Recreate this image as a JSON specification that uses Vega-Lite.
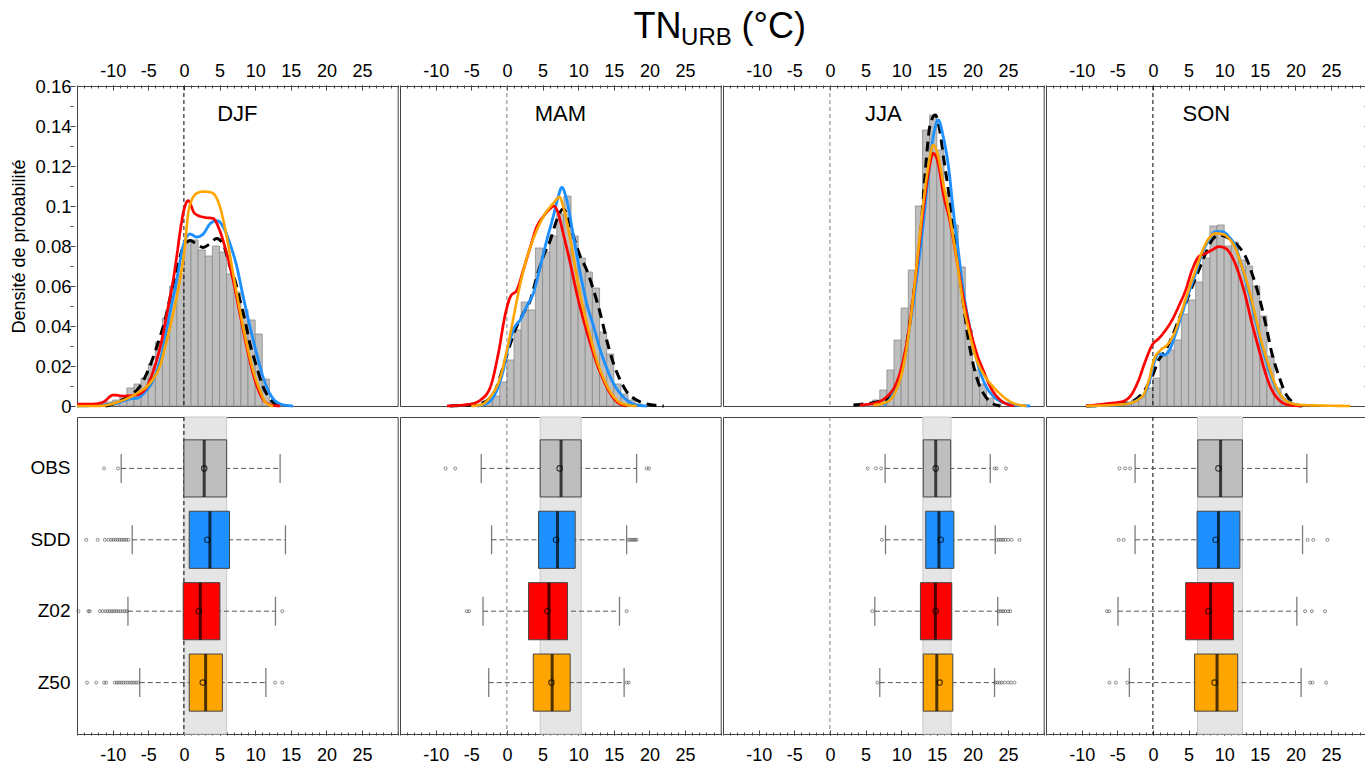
{
"$schema": "https://vega.github.io/schema/vega-lite/v6.json",
"padding": {"left": 10, "top": 9, "right": 2, "bottom": 0},
"config": {
  "font": "Liberation Sans",
  "view": {"stroke": "#444", "strokeWidth": 1},
  "axis": {"domain": false, "grid": false, "labelFont": "Liberation Sans", "labelColor": "#000", "tickColor": "#444", "titleFont": "Liberation Sans", "titleFontWeight": "normal", "titleColor": "#000"}
},
"title": {"text": "TN\u00a0\u00a0\u00a0\u00a0\u00a0\u00a0(°C)", "subtitle": "URB\u00a0\u00a0\u00a0\u00a0\u200b", "font": "Liberation Sans", "subtitleFont": "Liberation Sans", "fontSize": 36, "subtitleFontSize": 24, "fontWeight": "normal", "subtitleFontWeight": "normal", "color": "#000", "subtitleColor": "#000", "anchor": "middle", "subtitlePadding": -20.5, "offset": 11.5, "dx": 30.5},
"datasets": {
"top": [
{"season":"DJF","kind":"lab"},{"season":"MAM","kind":"lab"},{"season":"JJA","kind":"lab"},{"season":"SON","kind":"lab"},
{"season":"DJF","kind":"hist","lo":-13,"hi":-12,"dens":0.0005},{"season":"DJF","kind":"hist","lo":-12,"hi":-11,"dens":0.001},{"season":"DJF","kind":"hist","lo":-11,"hi":-10,"dens":0.002},{"season":"DJF","kind":"hist","lo":-10,"hi":-9,"dens":0.003},{"season":"DJF","kind":"hist","lo":-9,"hi":-8,"dens":0.005},{"season":"DJF","kind":"hist","lo":-8,"hi":-7,"dens":0.009},{"season":"DJF","kind":"hist","lo":-7,"hi":-6,"dens":0.011},{"season":"DJF","kind":"hist","lo":-6,"hi":-5,"dens":0.014},{"season":"DJF","kind":"hist","lo":-5,"hi":-4,"dens":0.021},{"season":"DJF","kind":"hist","lo":-4,"hi":-3,"dens":0.032},{"season":"DJF","kind":"hist","lo":-3,"hi":-2,"dens":0.044},{"season":"DJF","kind":"hist","lo":-2,"hi":-1,"dens":0.06},{"season":"DJF","kind":"hist","lo":-1,"hi":0,"dens":0.066},{"season":"DJF","kind":"hist","lo":0,"hi":1,"dens":0.083},{"season":"DJF","kind":"hist","lo":1,"hi":2,"dens":0.083},{"season":"DJF","kind":"hist","lo":2,"hi":3,"dens":0.078},{"season":"DJF","kind":"hist","lo":3,"hi":4,"dens":0.075},{"season":"DJF","kind":"hist","lo":4,"hi":5,"dens":0.08},{"season":"DJF","kind":"hist","lo":5,"hi":6,"dens":0.077},{"season":"DJF","kind":"hist","lo":6,"hi":7,"dens":0.066},{"season":"DJF","kind":"hist","lo":7,"hi":8,"dens":0.057},{"season":"DJF","kind":"hist","lo":8,"hi":9,"dens":0.048},{"season":"DJF","kind":"hist","lo":9,"hi":10,"dens":0.043},{"season":"DJF","kind":"hist","lo":10,"hi":11,"dens":0.036},{"season":"DJF","kind":"hist","lo":11,"hi":12,"dens":0.0135},{"season":"DJF","kind":"hist","lo":12,"hi":13,"dens":0.002},{"season":"DJF","kind":"hist","lo":13,"hi":14,"dens":0.0005},
{"season":"MAM","kind":"hist","lo":-4,"hi":-3,"dens":0.001},{"season":"MAM","kind":"hist","lo":-3,"hi":-2,"dens":0.002},{"season":"MAM","kind":"hist","lo":-2,"hi":-1,"dens":0.005},{"season":"MAM","kind":"hist","lo":-1,"hi":0,"dens":0.012},{"season":"MAM","kind":"hist","lo":0,"hi":1,"dens":0.023},{"season":"MAM","kind":"hist","lo":1,"hi":2,"dens":0.038},{"season":"MAM","kind":"hist","lo":2,"hi":3,"dens":0.052},{"season":"MAM","kind":"hist","lo":3,"hi":4,"dens":0.048},{"season":"MAM","kind":"hist","lo":4,"hi":5,"dens":0.079},{"season":"MAM","kind":"hist","lo":5,"hi":6,"dens":0.077},{"season":"MAM","kind":"hist","lo":6,"hi":7,"dens":0.085},{"season":"MAM","kind":"hist","lo":7,"hi":8,"dens":0.096},{"season":"MAM","kind":"hist","lo":8,"hi":9,"dens":0.105},{"season":"MAM","kind":"hist","lo":9,"hi":10,"dens":0.085},{"season":"MAM","kind":"hist","lo":10,"hi":11,"dens":0.074},{"season":"MAM","kind":"hist","lo":11,"hi":12,"dens":0.067},{"season":"MAM","kind":"hist","lo":12,"hi":13,"dens":0.059},{"season":"MAM","kind":"hist","lo":13,"hi":14,"dens":0.037},{"season":"MAM","kind":"hist","lo":14,"hi":15,"dens":0.026},{"season":"MAM","kind":"hist","lo":15,"hi":16,"dens":0.011},{"season":"MAM","kind":"hist","lo":16,"hi":17,"dens":0.006},{"season":"MAM","kind":"hist","lo":17,"hi":18,"dens":0.003},{"season":"MAM","kind":"hist","lo":18,"hi":19,"dens":0.001},
{"season":"JJA","kind":"hist","lo":4,"hi":5,"dens":0.0005},{"season":"JJA","kind":"hist","lo":5,"hi":6,"dens":0.001},{"season":"JJA","kind":"hist","lo":6,"hi":7,"dens":0.003},{"season":"JJA","kind":"hist","lo":7,"hi":8,"dens":0.008},{"season":"JJA","kind":"hist","lo":8,"hi":9,"dens":0.018},{"season":"JJA","kind":"hist","lo":9,"hi":10,"dens":0.033},{"season":"JJA","kind":"hist","lo":10,"hi":11,"dens":0.049},{"season":"JJA","kind":"hist","lo":11,"hi":12,"dens":0.068},{"season":"JJA","kind":"hist","lo":12,"hi":13,"dens":0.1},{"season":"JJA","kind":"hist","lo":13,"hi":14,"dens":0.138},{"season":"JJA","kind":"hist","lo":14,"hi":15,"dens":0.1455},{"season":"JJA","kind":"hist","lo":15,"hi":16,"dens":0.128},{"season":"JJA","kind":"hist","lo":16,"hi":17,"dens":0.107},{"season":"JJA","kind":"hist","lo":17,"hi":18,"dens":0.0905},{"season":"JJA","kind":"hist","lo":18,"hi":19,"dens":0.0695},{"season":"JJA","kind":"hist","lo":19,"hi":20,"dens":0.038},{"season":"JJA","kind":"hist","lo":20,"hi":21,"dens":0.018},{"season":"JJA","kind":"hist","lo":21,"hi":22,"dens":0.011},{"season":"JJA","kind":"hist","lo":22,"hi":23,"dens":0.004},{"season":"JJA","kind":"hist","lo":23,"hi":24,"dens":0.001},
{"season":"SON","kind":"hist","lo":-6,"hi":-5,"dens":0.0005},{"season":"SON","kind":"hist","lo":-5,"hi":-4,"dens":0.001},{"season":"SON","kind":"hist","lo":-4,"hi":-3,"dens":0.002},{"season":"SON","kind":"hist","lo":-3,"hi":-2,"dens":0.003},{"season":"SON","kind":"hist","lo":-2,"hi":-1,"dens":0.005},{"season":"SON","kind":"hist","lo":-1,"hi":0,"dens":0.009},{"season":"SON","kind":"hist","lo":0,"hi":1,"dens":0.014},{"season":"SON","kind":"hist","lo":1,"hi":2,"dens":0.025},{"season":"SON","kind":"hist","lo":2,"hi":3,"dens":0.028},{"season":"SON","kind":"hist","lo":3,"hi":4,"dens":0.033},{"season":"SON","kind":"hist","lo":4,"hi":5,"dens":0.046},{"season":"SON","kind":"hist","lo":5,"hi":6,"dens":0.053},{"season":"SON","kind":"hist","lo":6,"hi":7,"dens":0.062},{"season":"SON","kind":"hist","lo":7,"hi":8,"dens":0.074},{"season":"SON","kind":"hist","lo":8,"hi":9,"dens":0.09},{"season":"SON","kind":"hist","lo":9,"hi":10,"dens":0.0905},{"season":"SON","kind":"hist","lo":10,"hi":11,"dens":0.08},{"season":"SON","kind":"hist","lo":11,"hi":12,"dens":0.082},{"season":"SON","kind":"hist","lo":12,"hi":13,"dens":0.073},{"season":"SON","kind":"hist","lo":13,"hi":14,"dens":0.07},{"season":"SON","kind":"hist","lo":14,"hi":15,"dens":0.06},{"season":"SON","kind":"hist","lo":15,"hi":16,"dens":0.045},{"season":"SON","kind":"hist","lo":16,"hi":17,"dens":0.025},{"season":"SON","kind":"hist","lo":17,"hi":18,"dens":0.009},{"season":"SON","kind":"hist","lo":18,"hi":19,"dens":0.003},{"season":"SON","kind":"hist","lo":19,"hi":20,"dens":0.001},

{"season":"DJF","kind":"curve","model":"OBS","temp":-11,"dens":0},{"season":"DJF","kind":"curve","model":"OBS","temp":-10.4,"dens":0.0005},{"season":"DJF","kind":"curve","model":"OBS","temp":-9,"dens":0.0025},{"season":"DJF","kind":"curve","model":"OBS","temp":-7.6,"dens":0.005},{"season":"DJF","kind":"curve","model":"OBS","temp":-6.2,"dens":0.0097},{"season":"DJF","kind":"curve","model":"OBS","temp":-5,"dens":0.018},{"season":"DJF","kind":"curve","model":"OBS","temp":-3.8,"dens":0.0297},{"season":"DJF","kind":"curve","model":"OBS","temp":-2.65,"dens":0.043},{"season":"DJF","kind":"curve","model":"OBS","temp":-1.7,"dens":0.058},{"season":"DJF","kind":"curve","model":"OBS","temp":-1,"dens":0.068},{"season":"DJF","kind":"curve","model":"OBS","temp":-0.1,"dens":0.0793},{"season":"DJF","kind":"curve","model":"OBS","temp":0.85,"dens":0.0827},{"season":"DJF","kind":"curve","model":"OBS","temp":1.8,"dens":0.081},{"season":"DJF","kind":"curve","model":"OBS","temp":2.7,"dens":0.0793},{"season":"DJF","kind":"curve","model":"OBS","temp":3.6,"dens":0.081},{"season":"DJF","kind":"curve","model":"OBS","temp":4.6,"dens":0.0837},{"season":"DJF","kind":"curve","model":"OBS","temp":5.5,"dens":0.081},{"season":"DJF","kind":"curve","model":"OBS","temp":6.45,"dens":0.07},{"season":"DJF","kind":"curve","model":"OBS","temp":7.15,"dens":0.063},{"season":"DJF","kind":"curve","model":"OBS","temp":7.85,"dens":0.053},{"season":"DJF","kind":"curve","model":"OBS","temp":8.55,"dens":0.043},{"season":"DJF","kind":"curve","model":"OBS","temp":9.25,"dens":0.0313},{"season":"DJF","kind":"curve","model":"OBS","temp":10.2,"dens":0.0197},{"season":"DJF","kind":"curve","model":"OBS","temp":11.1,"dens":0.0097},{"season":"DJF","kind":"curve","model":"OBS","temp":12,"dens":0.004},{"season":"DJF","kind":"curve","model":"OBS","temp":13,"dens":0.0005},{"season":"DJF","kind":"curve","model":"OBS","temp":14,"dens":0},
{"season":"DJF","kind":"curve","model":"SDD","temp":-15,"dens":0},{"season":"DJF","kind":"curve","model":"SDD","temp":-11.8,"dens":0.0005},{"season":"DJF","kind":"curve","model":"SDD","temp":-9.4,"dens":0.0015},{"season":"DJF","kind":"curve","model":"SDD","temp":-7.6,"dens":0.0035},{"season":"DJF","kind":"curve","model":"SDD","temp":-6.5,"dens":0.004},{"season":"DJF","kind":"curve","model":"SDD","temp":-5.3,"dens":0.0077},{"season":"DJF","kind":"curve","model":"SDD","temp":-4.3,"dens":0.013},{"season":"DJF","kind":"curve","model":"SDD","temp":-3.1,"dens":0.026},{"season":"DJF","kind":"curve","model":"SDD","temp":-2,"dens":0.046},{"season":"DJF","kind":"curve","model":"SDD","temp":-1,"dens":0.063},{"season":"DJF","kind":"curve","model":"SDD","temp":-0.1,"dens":0.08},{"season":"DJF","kind":"curve","model":"SDD","temp":0.85,"dens":0.086},{"season":"DJF","kind":"curve","model":"SDD","temp":1.8,"dens":0.0845},{"season":"DJF","kind":"curve","model":"SDD","temp":2.7,"dens":0.086},{"season":"DJF","kind":"curve","model":"SDD","temp":3.65,"dens":0.091},{"season":"DJF","kind":"curve","model":"SDD","temp":4.6,"dens":0.0927},{"season":"DJF","kind":"curve","model":"SDD","temp":5.5,"dens":0.0897},{"season":"DJF","kind":"curve","model":"SDD","temp":6.45,"dens":0.0813},{"season":"DJF","kind":"curve","model":"SDD","temp":7.4,"dens":0.07},{"season":"DJF","kind":"curve","model":"SDD","temp":8.3,"dens":0.055},{"season":"DJF","kind":"curve","model":"SDD","temp":9.25,"dens":0.04},{"season":"DJF","kind":"curve","model":"SDD","temp":10.2,"dens":0.0263},{"season":"DJF","kind":"curve","model":"SDD","temp":11.1,"dens":0.0147},{"season":"DJF","kind":"curve","model":"SDD","temp":12.05,"dens":0.0063},{"season":"DJF","kind":"curve","model":"SDD","temp":13,"dens":0.002},{"season":"DJF","kind":"curve","model":"SDD","temp":14.4,"dens":0.0003},{"season":"DJF","kind":"curve","model":"SDD","temp":15.3,"dens":0},
{"season":"DJF","kind":"curve","model":"Z02","temp":-15,"dens":0.001},{"season":"DJF","kind":"curve","model":"Z02","temp":-12.7,"dens":0.001},{"season":"DJF","kind":"curve","model":"Z02","temp":-11.3,"dens":0.002},{"season":"DJF","kind":"curve","model":"Z02","temp":-9.9,"dens":0.0055},{"season":"DJF","kind":"curve","model":"Z02","temp":-8.5,"dens":0.005},{"season":"DJF","kind":"curve","model":"Z02","temp":-6.6,"dens":0.0055},{"season":"DJF","kind":"curve","model":"Z02","temp":-5.2,"dens":0.0097},{"season":"DJF","kind":"curve","model":"Z02","temp":-4.1,"dens":0.0197},{"season":"DJF","kind":"curve","model":"Z02","temp":-3.1,"dens":0.033},{"season":"DJF","kind":"curve","model":"Z02","temp":-2.2,"dens":0.0497},{"season":"DJF","kind":"curve","model":"Z02","temp":-1.5,"dens":0.063},{"season":"DJF","kind":"curve","model":"Z02","temp":-1,"dens":0.075},{"season":"DJF","kind":"curve","model":"Z02","temp":-0.5,"dens":0.088},{"season":"DJF","kind":"curve","model":"Z02","temp":0,"dens":0.098},{"season":"DJF","kind":"curve","model":"Z02","temp":0.6,"dens":0.1027},{"season":"DJF","kind":"curve","model":"Z02","temp":1.5,"dens":0.0963},{"season":"DJF","kind":"curve","model":"Z02","temp":2.9,"dens":0.0943},{"season":"DJF","kind":"curve","model":"Z02","temp":4.1,"dens":0.0938},{"season":"DJF","kind":"curve","model":"Z02","temp":5,"dens":0.088},{"season":"DJF","kind":"curve","model":"Z02","temp":6,"dens":0.0763},{"season":"DJF","kind":"curve","model":"Z02","temp":6.9,"dens":0.063},{"season":"DJF","kind":"curve","model":"Z02","temp":7.85,"dens":0.0463},{"season":"DJF","kind":"curve","model":"Z02","temp":8.8,"dens":0.0297},{"season":"DJF","kind":"curve","model":"Z02","temp":9.7,"dens":0.0163},{"season":"DJF","kind":"curve","model":"Z02","temp":10.65,"dens":0.0063},{"season":"DJF","kind":"curve","model":"Z02","temp":11.6,"dens":0.0015},{"season":"DJF","kind":"curve","model":"Z02","temp":12.5,"dens":0.0003},{"season":"DJF","kind":"curve","model":"Z02","temp":13.5,"dens":0},
{"season":"DJF","kind":"curve","model":"Z50","temp":-15,"dens":0},{"season":"DJF","kind":"curve","model":"Z50","temp":-12.2,"dens":0},{"season":"DJF","kind":"curve","model":"Z50","temp":-9,"dens":0.0023},{"season":"DJF","kind":"curve","model":"Z50","temp":-6.6,"dens":0.0063},{"season":"DJF","kind":"curve","model":"Z50","temp":-4.8,"dens":0.0113},{"season":"DJF","kind":"curve","model":"Z50","temp":-3.4,"dens":0.0197},{"season":"DJF","kind":"curve","model":"Z50","temp":-2.4,"dens":0.033},{"season":"DJF","kind":"curve","model":"Z50","temp":-1.5,"dens":0.0463},{"season":"DJF","kind":"curve","model":"Z50","temp":-0.56,"dens":0.063},{"season":"DJF","kind":"curve","model":"Z50","temp":0.14,"dens":0.08},{"season":"DJF","kind":"curve","model":"Z50","temp":0.6,"dens":0.0963},{"season":"DJF","kind":"curve","model":"Z50","temp":1.1,"dens":0.103},{"season":"DJF","kind":"curve","model":"Z50","temp":1.9,"dens":0.1065},{"season":"DJF","kind":"curve","model":"Z50","temp":2.7,"dens":0.1072},{"season":"DJF","kind":"curve","model":"Z50","temp":3.5,"dens":0.107},{"season":"DJF","kind":"curve","model":"Z50","temp":4.1,"dens":0.1063},{"season":"DJF","kind":"curve","model":"Z50","temp":5.05,"dens":0.0997},{"season":"DJF","kind":"curve","model":"Z50","temp":6,"dens":0.0847},{"season":"DJF","kind":"curve","model":"Z50","temp":6.9,"dens":0.0663},{"season":"DJF","kind":"curve","model":"Z50","temp":7.85,"dens":0.048},{"season":"DJF","kind":"curve","model":"Z50","temp":8.8,"dens":0.0313},{"season":"DJF","kind":"curve","model":"Z50","temp":9.7,"dens":0.018},{"season":"DJF","kind":"curve","model":"Z50","temp":10.65,"dens":0.008},{"season":"DJF","kind":"curve","model":"Z50","temp":11.6,"dens":0.0013},{"season":"DJF","kind":"curve","model":"Z50","temp":12.5,"dens":0},

{"season":"MAM","kind":"curve","model":"OBS","temp":-8,"dens":0},{"season":"MAM","kind":"curve","model":"OBS","temp":-3.7,"dens":0.0013},{"season":"MAM","kind":"curve","model":"OBS","temp":-1.9,"dens":0.006},{"season":"MAM","kind":"curve","model":"OBS","temp":-0.5,"dens":0.0197},{"season":"MAM","kind":"curve","model":"OBS","temp":0.5,"dens":0.0313},{"season":"MAM","kind":"curve","model":"OBS","temp":1.4,"dens":0.04},{"season":"MAM","kind":"curve","model":"OBS","temp":2.3,"dens":0.0463},{"season":"MAM","kind":"curve","model":"OBS","temp":3.3,"dens":0.053},{"season":"MAM","kind":"curve","model":"OBS","temp":4.2,"dens":0.0647},{"season":"MAM","kind":"curve","model":"OBS","temp":5.1,"dens":0.0747},{"season":"MAM","kind":"curve","model":"OBS","temp":6.1,"dens":0.083},{"season":"MAM","kind":"curve","model":"OBS","temp":7,"dens":0.093},{"season":"MAM","kind":"curve","model":"OBS","temp":7.9,"dens":0.0985},{"season":"MAM","kind":"curve","model":"OBS","temp":8.6,"dens":0.094},{"season":"MAM","kind":"curve","model":"OBS","temp":9.35,"dens":0.0847},{"season":"MAM","kind":"curve","model":"OBS","temp":10.3,"dens":0.0747},{"season":"MAM","kind":"curve","model":"OBS","temp":11.2,"dens":0.068},{"season":"MAM","kind":"curve","model":"OBS","temp":12.15,"dens":0.058},{"season":"MAM","kind":"curve","model":"OBS","temp":13.1,"dens":0.0463},{"season":"MAM","kind":"curve","model":"OBS","temp":14,"dens":0.033},{"season":"MAM","kind":"curve","model":"OBS","temp":14.95,"dens":0.0213},{"season":"MAM","kind":"curve","model":"OBS","temp":15.9,"dens":0.013},{"season":"MAM","kind":"curve","model":"OBS","temp":16.8,"dens":0.0072},{"season":"MAM","kind":"curve","model":"OBS","temp":18.2,"dens":0.003},{"season":"MAM","kind":"curve","model":"OBS","temp":19.6,"dens":0.001},{"season":"MAM","kind":"curve","model":"OBS","temp":22,"dens":0},
{"season":"MAM","kind":"curve","model":"SDD","temp":-4.2,"dens":0},{"season":"MAM","kind":"curve","model":"SDD","temp":-2.8,"dens":0.0013},{"season":"MAM","kind":"curve","model":"SDD","temp":-1.4,"dens":0.008},{"season":"MAM","kind":"curve","model":"SDD","temp":-0.5,"dens":0.018},{"season":"MAM","kind":"curve","model":"SDD","temp":0.2,"dens":0.0297},{"season":"MAM","kind":"curve","model":"SDD","temp":0.9,"dens":0.038},{"season":"MAM","kind":"curve","model":"SDD","temp":1.9,"dens":0.0433},{"season":"MAM","kind":"curve","model":"SDD","temp":2.8,"dens":0.05},{"season":"MAM","kind":"curve","model":"SDD","temp":3.7,"dens":0.0563},{"season":"MAM","kind":"curve","model":"SDD","temp":4.7,"dens":0.07},{"season":"MAM","kind":"curve","model":"SDD","temp":5.6,"dens":0.083},{"season":"MAM","kind":"curve","model":"SDD","temp":6.5,"dens":0.0947},{"season":"MAM","kind":"curve","model":"SDD","temp":7.2,"dens":0.1047},{"season":"MAM","kind":"curve","model":"SDD","temp":7.7,"dens":0.1093},{"season":"MAM","kind":"curve","model":"SDD","temp":8.4,"dens":0.103},{"season":"MAM","kind":"curve","model":"SDD","temp":9.35,"dens":0.0847},{"season":"MAM","kind":"curve","model":"SDD","temp":10.3,"dens":0.0663},{"season":"MAM","kind":"curve","model":"SDD","temp":11.2,"dens":0.0513},{"season":"MAM","kind":"curve","model":"SDD","temp":12.15,"dens":0.04},{"season":"MAM","kind":"curve","model":"SDD","temp":13.1,"dens":0.028},{"season":"MAM","kind":"curve","model":"SDD","temp":14,"dens":0.019},{"season":"MAM","kind":"curve","model":"SDD","temp":14.95,"dens":0.0113},{"season":"MAM","kind":"curve","model":"SDD","temp":15.9,"dens":0.0063},{"season":"MAM","kind":"curve","model":"SDD","temp":16.8,"dens":0.003},{"season":"MAM","kind":"curve","model":"SDD","temp":18.2,"dens":0.0005},{"season":"MAM","kind":"curve","model":"SDD","temp":19.6,"dens":0},
{"season":"MAM","kind":"curve","model":"Z02","temp":-8.4,"dens":0},{"season":"MAM","kind":"curve","model":"Z02","temp":-5.1,"dens":0.001},{"season":"MAM","kind":"curve","model":"Z02","temp":-3.7,"dens":0.003},{"season":"MAM","kind":"curve","model":"Z02","temp":-2.3,"dens":0.0097},{"season":"MAM","kind":"curve","model":"Z02","temp":-1.2,"dens":0.0263},{"season":"MAM","kind":"curve","model":"Z02","temp":-0.2,"dens":0.0463},{"season":"MAM","kind":"curve","model":"Z02","temp":0.5,"dens":0.0547},{"season":"MAM","kind":"curve","model":"Z02","temp":1.4,"dens":0.058},{"season":"MAM","kind":"curve","model":"Z02","temp":2.3,"dens":0.068},{"season":"MAM","kind":"curve","model":"Z02","temp":3.3,"dens":0.0797},{"season":"MAM","kind":"curve","model":"Z02","temp":4.2,"dens":0.0897},{"season":"MAM","kind":"curve","model":"Z02","temp":5.1,"dens":0.0947},{"season":"MAM","kind":"curve","model":"Z02","temp":6.1,"dens":0.0988},{"season":"MAM","kind":"curve","model":"Z02","temp":6.6,"dens":0.1},{"season":"MAM","kind":"curve","model":"Z02","temp":7.2,"dens":0.0963},{"season":"MAM","kind":"curve","model":"Z02","temp":7.9,"dens":0.0863},{"season":"MAM","kind":"curve","model":"Z02","temp":8.9,"dens":0.0713},{"season":"MAM","kind":"curve","model":"Z02","temp":9.8,"dens":0.0563},{"season":"MAM","kind":"curve","model":"Z02","temp":10.75,"dens":0.043},{"season":"MAM","kind":"curve","model":"Z02","temp":11.7,"dens":0.0313},{"season":"MAM","kind":"curve","model":"Z02","temp":12.6,"dens":0.0213},{"season":"MAM","kind":"curve","model":"Z02","temp":13.55,"dens":0.013},{"season":"MAM","kind":"curve","model":"Z02","temp":14.5,"dens":0.0063},{"season":"MAM","kind":"curve","model":"Z02","temp":15.4,"dens":0.0022},{"season":"MAM","kind":"curve","model":"Z02","temp":16.8,"dens":0},
{"season":"MAM","kind":"curve","model":"Z50","temp":-5,"dens":0},{"season":"MAM","kind":"curve","model":"Z50","temp":-3.7,"dens":0.0005},{"season":"MAM","kind":"curve","model":"Z50","temp":-2.3,"dens":0.0047},{"season":"MAM","kind":"curve","model":"Z50","temp":-0.9,"dens":0.0147},{"season":"MAM","kind":"curve","model":"Z50","temp":0,"dens":0.028},{"season":"MAM","kind":"curve","model":"Z50","temp":0.7,"dens":0.04},{"season":"MAM","kind":"curve","model":"Z50","temp":1.4,"dens":0.053},{"season":"MAM","kind":"curve","model":"Z50","temp":2.1,"dens":0.0647},{"season":"MAM","kind":"curve","model":"Z50","temp":3,"dens":0.0763},{"season":"MAM","kind":"curve","model":"Z50","temp":4.2,"dens":0.088},{"season":"MAM","kind":"curve","model":"Z50","temp":5.4,"dens":0.0963},{"season":"MAM","kind":"curve","model":"Z50","temp":6.5,"dens":0.1013},{"season":"MAM","kind":"curve","model":"Z50","temp":7.4,"dens":0.1045},{"season":"MAM","kind":"curve","model":"Z50","temp":7.9,"dens":0.0997},{"season":"MAM","kind":"curve","model":"Z50","temp":8.9,"dens":0.083},{"season":"MAM","kind":"curve","model":"Z50","temp":9.8,"dens":0.0647},{"season":"MAM","kind":"curve","model":"Z50","temp":10.75,"dens":0.048},{"season":"MAM","kind":"curve","model":"Z50","temp":11.7,"dens":0.0347},{"season":"MAM","kind":"curve","model":"Z50","temp":12.6,"dens":0.023},{"season":"MAM","kind":"curve","model":"Z50","temp":13.55,"dens":0.014},{"season":"MAM","kind":"curve","model":"Z50","temp":14.5,"dens":0.0072},{"season":"MAM","kind":"curve","model":"Z50","temp":15.4,"dens":0.003},{"season":"MAM","kind":"curve","model":"Z50","temp":16.8,"dens":0.0005},{"season":"MAM","kind":"curve","model":"Z50","temp":18.2,"dens":0},

{"season":"JJA","kind":"curve","model":"OBS","temp":3.3,"dens":0.0005},{"season":"JJA","kind":"curve","model":"OBS","temp":8,"dens":0.0033},{"season":"JJA","kind":"curve","model":"OBS","temp":9.87,"dens":0.0147},{"season":"JJA","kind":"curve","model":"OBS","temp":10.8,"dens":0.0313},{"season":"JJA","kind":"curve","model":"OBS","temp":11.7,"dens":0.0547},{"season":"JJA","kind":"curve","model":"OBS","temp":12.7,"dens":0.0847},{"season":"JJA","kind":"curve","model":"OBS","temp":13.4,"dens":0.118},{"season":"JJA","kind":"curve","model":"OBS","temp":14.1,"dens":0.1413},{"season":"JJA","kind":"curve","model":"OBS","temp":14.8,"dens":0.1455},{"season":"JJA","kind":"curve","model":"OBS","temp":15.4,"dens":0.138},{"season":"JJA","kind":"curve","model":"OBS","temp":16,"dens":0.123},{"season":"JJA","kind":"curve","model":"OBS","temp":16.7,"dens":0.1063},{"season":"JJA","kind":"curve","model":"OBS","temp":17.3,"dens":0.0913},{"season":"JJA","kind":"curve","model":"OBS","temp":18,"dens":0.072},{"season":"JJA","kind":"curve","model":"OBS","temp":18.7,"dens":0.052},{"season":"JJA","kind":"curve","model":"OBS","temp":19.4,"dens":0.034},{"season":"JJA","kind":"curve","model":"OBS","temp":20.1,"dens":0.021},{"season":"JJA","kind":"curve","model":"OBS","temp":20.8,"dens":0.012},{"season":"JJA","kind":"curve","model":"OBS","temp":21.6,"dens":0.006},{"season":"JJA","kind":"curve","model":"OBS","temp":22.5,"dens":0.002},{"season":"JJA","kind":"curve","model":"OBS","temp":23.9,"dens":0},
{"season":"JJA","kind":"curve","model":"SDD","temp":7.5,"dens":0.0005},{"season":"JJA","kind":"curve","model":"SDD","temp":8.4,"dens":0.0033},{"season":"JJA","kind":"curve","model":"SDD","temp":9.3,"dens":0.0097},{"season":"JJA","kind":"curve","model":"SDD","temp":10.3,"dens":0.0213},{"season":"JJA","kind":"curve","model":"SDD","temp":11.2,"dens":0.0397},{"season":"JJA","kind":"curve","model":"SDD","temp":12.2,"dens":0.0647},{"season":"JJA","kind":"curve","model":"SDD","temp":13.1,"dens":0.0913},{"season":"JJA","kind":"curve","model":"SDD","temp":13.8,"dens":0.1147},{"season":"JJA","kind":"curve","model":"SDD","temp":14.5,"dens":0.1347},{"season":"JJA","kind":"curve","model":"SDD","temp":15.2,"dens":0.143},{"season":"JJA","kind":"curve","model":"SDD","temp":15.9,"dens":0.1347},{"season":"JJA","kind":"curve","model":"SDD","temp":16.7,"dens":0.118},{"season":"JJA","kind":"curve","model":"SDD","temp":17.3,"dens":0.098},{"season":"JJA","kind":"curve","model":"SDD","temp":18,"dens":0.078},{"season":"JJA","kind":"curve","model":"SDD","temp":18.7,"dens":0.058},{"season":"JJA","kind":"curve","model":"SDD","temp":19.7,"dens":0.038},{"season":"JJA","kind":"curve","model":"SDD","temp":20.6,"dens":0.023},{"season":"JJA","kind":"curve","model":"SDD","temp":21.5,"dens":0.013},{"season":"JJA","kind":"curve","model":"SDD","temp":22.9,"dens":0.005},{"season":"JJA","kind":"curve","model":"SDD","temp":24.8,"dens":0.0013},{"season":"JJA","kind":"curve","model":"SDD","temp":28.1,"dens":0},
{"season":"JJA","kind":"curve","model":"Z02","temp":4.2,"dens":0.0005},{"season":"JJA","kind":"curve","model":"Z02","temp":6.1,"dens":0.0013},{"season":"JJA","kind":"curve","model":"Z02","temp":8,"dens":0.0047},{"season":"JJA","kind":"curve","model":"Z02","temp":9.3,"dens":0.0113},{"season":"JJA","kind":"curve","model":"Z02","temp":10.3,"dens":0.023},{"season":"JJA","kind":"curve","model":"Z02","temp":11,"dens":0.0363},{"season":"JJA","kind":"curve","model":"Z02","temp":11.7,"dens":0.0547},{"season":"JJA","kind":"curve","model":"Z02","temp":12.4,"dens":0.0763},{"season":"JJA","kind":"curve","model":"Z02","temp":13.1,"dens":0.098},{"season":"JJA","kind":"curve","model":"Z02","temp":13.8,"dens":0.1163},{"season":"JJA","kind":"curve","model":"Z02","temp":14.5,"dens":0.1263},{"season":"JJA","kind":"curve","model":"Z02","temp":15.2,"dens":0.1213},{"season":"JJA","kind":"curve","model":"Z02","temp":15.9,"dens":0.1063},{"season":"JJA","kind":"curve","model":"Z02","temp":16.9,"dens":0.0913},{"season":"JJA","kind":"curve","model":"Z02","temp":17.8,"dens":0.073},{"season":"JJA","kind":"curve","model":"Z02","temp":18.7,"dens":0.0547},{"season":"JJA","kind":"curve","model":"Z02","temp":19.7,"dens":0.038},{"season":"JJA","kind":"curve","model":"Z02","temp":20.6,"dens":0.0263},{"season":"JJA","kind":"curve","model":"Z02","temp":21.5,"dens":0.018},{"season":"JJA","kind":"curve","model":"Z02","temp":22.5,"dens":0.0097},{"season":"JJA","kind":"curve","model":"Z02","temp":23.9,"dens":0.003},{"season":"JJA","kind":"curve","model":"Z02","temp":25.8,"dens":0},
{"season":"JJA","kind":"curve","model":"Z50","temp":6.1,"dens":0.0005},{"season":"JJA","kind":"curve","model":"Z50","temp":8,"dens":0.002},{"season":"JJA","kind":"curve","model":"Z50","temp":9.3,"dens":0.008},{"season":"JJA","kind":"curve","model":"Z50","temp":10.3,"dens":0.0197},{"season":"JJA","kind":"curve","model":"Z50","temp":11,"dens":0.0347},{"season":"JJA","kind":"curve","model":"Z50","temp":11.7,"dens":0.0547},{"season":"JJA","kind":"curve","model":"Z50","temp":12.4,"dens":0.078},{"season":"JJA","kind":"curve","model":"Z50","temp":13.1,"dens":0.1013},{"season":"JJA","kind":"curve","model":"Z50","temp":13.8,"dens":0.1197},{"season":"JJA","kind":"curve","model":"Z50","temp":14.5,"dens":0.1305},{"season":"JJA","kind":"curve","model":"Z50","temp":15.2,"dens":0.1247},{"season":"JJA","kind":"curve","model":"Z50","temp":15.9,"dens":0.1113},{"season":"JJA","kind":"curve","model":"Z50","temp":16.9,"dens":0.093},{"season":"JJA","kind":"curve","model":"Z50","temp":17.8,"dens":0.073},{"season":"JJA","kind":"curve","model":"Z50","temp":18.7,"dens":0.0513},{"season":"JJA","kind":"curve","model":"Z50","temp":19.7,"dens":0.0347},{"season":"JJA","kind":"curve","model":"Z50","temp":20.6,"dens":0.023},{"season":"JJA","kind":"curve","model":"Z50","temp":21.5,"dens":0.0163},{"season":"JJA","kind":"curve","model":"Z50","temp":22.9,"dens":0.0097},{"season":"JJA","kind":"curve","model":"Z50","temp":24.3,"dens":0.0047},{"season":"JJA","kind":"curve","model":"Z50","temp":25.8,"dens":0.0013},{"season":"JJA","kind":"curve","model":"Z50","temp":27.6,"dens":0},

{"season":"SON","kind":"curve","model":"OBS","temp":-9.4,"dens":0},{"season":"SON","kind":"curve","model":"OBS","temp":-3.8,"dens":0.0013},{"season":"SON","kind":"curve","model":"OBS","temp":-1.5,"dens":0.0063},{"season":"SON","kind":"curve","model":"OBS","temp":-0.1,"dens":0.0147},{"season":"SON","kind":"curve","model":"OBS","temp":0.8,"dens":0.023},{"season":"SON","kind":"curve","model":"OBS","temp":1.8,"dens":0.028},{"season":"SON","kind":"curve","model":"OBS","temp":2.7,"dens":0.0347},{"season":"SON","kind":"curve","model":"OBS","temp":3.6,"dens":0.043},{"season":"SON","kind":"curve","model":"OBS","temp":4.6,"dens":0.0513},{"season":"SON","kind":"curve","model":"OBS","temp":5.5,"dens":0.0597},{"season":"SON","kind":"curve","model":"OBS","temp":6.45,"dens":0.068},{"season":"SON","kind":"curve","model":"OBS","temp":7.4,"dens":0.0763},{"season":"SON","kind":"curve","model":"OBS","temp":8.3,"dens":0.083},{"season":"SON","kind":"curve","model":"OBS","temp":9.25,"dens":0.0855},{"season":"SON","kind":"curve","model":"OBS","temp":10.2,"dens":0.0847},{"season":"SON","kind":"curve","model":"OBS","temp":11.1,"dens":0.0827},{"season":"SON","kind":"curve","model":"OBS","temp":12.05,"dens":0.0797},{"season":"SON","kind":"curve","model":"OBS","temp":13,"dens":0.0747},{"season":"SON","kind":"curve","model":"OBS","temp":13.9,"dens":0.0663},{"season":"SON","kind":"curve","model":"OBS","temp":14.9,"dens":0.0547},{"season":"SON","kind":"curve","model":"OBS","temp":15.8,"dens":0.0413},{"season":"SON","kind":"curve","model":"OBS","temp":16.7,"dens":0.0263},{"season":"SON","kind":"curve","model":"OBS","temp":17.7,"dens":0.0147},{"season":"SON","kind":"curve","model":"OBS","temp":18.6,"dens":0.0063},{"season":"SON","kind":"curve","model":"OBS","temp":19.5,"dens":0.0022},{"season":"SON","kind":"curve","model":"OBS","temp":20.9,"dens":0},
{"season":"SON","kind":"curve","model":"SDD","temp":-9.4,"dens":0},{"season":"SON","kind":"curve","model":"SDD","temp":-3.8,"dens":0.001},{"season":"SON","kind":"curve","model":"SDD","temp":-1.5,"dens":0.0047},{"season":"SON","kind":"curve","model":"SDD","temp":-0.56,"dens":0.0113},{"season":"SON","kind":"curve","model":"SDD","temp":0.14,"dens":0.0213},{"season":"SON","kind":"curve","model":"SDD","temp":0.84,"dens":0.0263},{"season":"SON","kind":"curve","model":"SDD","temp":1.5,"dens":0.0255},{"season":"SON","kind":"curve","model":"SDD","temp":2.2,"dens":0.0272},{"season":"SON","kind":"curve","model":"SDD","temp":3.2,"dens":0.0363},{"season":"SON","kind":"curve","model":"SDD","temp":4.1,"dens":0.0463},{"season":"SON","kind":"curve","model":"SDD","temp":5,"dens":0.0563},{"season":"SON","kind":"curve","model":"SDD","temp":6,"dens":0.0663},{"season":"SON","kind":"curve","model":"SDD","temp":6.9,"dens":0.0763},{"season":"SON","kind":"curve","model":"SDD","temp":7.85,"dens":0.083},{"season":"SON","kind":"curve","model":"SDD","temp":8.8,"dens":0.0872},{"season":"SON","kind":"curve","model":"SDD","temp":9.7,"dens":0.0872},{"season":"SON","kind":"curve","model":"SDD","temp":10.65,"dens":0.0847},{"season":"SON","kind":"curve","model":"SDD","temp":11.6,"dens":0.0797},{"season":"SON","kind":"curve","model":"SDD","temp":12.5,"dens":0.0697},{"season":"SON","kind":"curve","model":"SDD","temp":13.5,"dens":0.0563},{"season":"SON","kind":"curve","model":"SDD","temp":14.4,"dens":0.043},{"season":"SON","kind":"curve","model":"SDD","temp":15.3,"dens":0.0297},{"season":"SON","kind":"curve","model":"SDD","temp":16.3,"dens":0.018},{"season":"SON","kind":"curve","model":"SDD","temp":17.2,"dens":0.0097},{"season":"SON","kind":"curve","model":"SDD","temp":18.1,"dens":0.0047},{"season":"SON","kind":"curve","model":"SDD","temp":19.5,"dens":0.0013},{"season":"SON","kind":"curve","model":"SDD","temp":20.9,"dens":0},
{"season":"SON","kind":"curve","model":"Z02","temp":-9.4,"dens":0},{"season":"SON","kind":"curve","model":"Z02","temp":-6.2,"dens":0.0013},{"season":"SON","kind":"curve","model":"Z02","temp":-4.3,"dens":0.0022},{"season":"SON","kind":"curve","model":"Z02","temp":-2.9,"dens":0.0063},{"season":"SON","kind":"curve","model":"Z02","temp":-2,"dens":0.013},{"season":"SON","kind":"curve","model":"Z02","temp":-1,"dens":0.023},{"season":"SON","kind":"curve","model":"Z02","temp":-0.1,"dens":0.0305},{"season":"SON","kind":"curve","model":"Z02","temp":0.84,"dens":0.0338},{"season":"SON","kind":"curve","model":"Z02","temp":1.8,"dens":0.038},{"season":"SON","kind":"curve","model":"Z02","temp":2.7,"dens":0.043},{"season":"SON","kind":"curve","model":"Z02","temp":3.6,"dens":0.0497},{"season":"SON","kind":"curve","model":"Z02","temp":4.6,"dens":0.058},{"season":"SON","kind":"curve","model":"Z02","temp":5.5,"dens":0.068},{"season":"SON","kind":"curve","model":"Z02","temp":6.45,"dens":0.0747},{"season":"SON","kind":"curve","model":"Z02","temp":7.4,"dens":0.0763},{"season":"SON","kind":"curve","model":"Z02","temp":8.3,"dens":0.078},{"season":"SON","kind":"curve","model":"Z02","temp":9.25,"dens":0.0797},{"season":"SON","kind":"curve","model":"Z02","temp":10.2,"dens":0.0788},{"season":"SON","kind":"curve","model":"Z02","temp":11.1,"dens":0.0747},{"season":"SON","kind":"curve","model":"Z02","temp":12.05,"dens":0.0663},{"season":"SON","kind":"curve","model":"Z02","temp":13,"dens":0.0547},{"season":"SON","kind":"curve","model":"Z02","temp":13.9,"dens":0.0413},{"season":"SON","kind":"curve","model":"Z02","temp":14.9,"dens":0.028},{"season":"SON","kind":"curve","model":"Z02","temp":15.8,"dens":0.0163},{"season":"SON","kind":"curve","model":"Z02","temp":16.7,"dens":0.008},{"season":"SON","kind":"curve","model":"Z02","temp":17.7,"dens":0.003},{"season":"SON","kind":"curve","model":"Z02","temp":19.1,"dens":0.0005},{"season":"SON","kind":"curve","model":"Z02","temp":20.9,"dens":0},
{"season":"SON","kind":"curve","model":"Z50","temp":-9.4,"dens":0},{"season":"SON","kind":"curve","model":"Z50","temp":-3.8,"dens":0.001},{"season":"SON","kind":"curve","model":"Z50","temp":-1.5,"dens":0.0047},{"season":"SON","kind":"curve","model":"Z50","temp":-0.56,"dens":0.013},{"season":"SON","kind":"curve","model":"Z50","temp":0.14,"dens":0.023},{"season":"SON","kind":"curve","model":"Z50","temp":1.1,"dens":0.028},{"season":"SON","kind":"curve","model":"Z50","temp":2,"dens":0.0305},{"season":"SON","kind":"curve","model":"Z50","temp":3.2,"dens":0.038},{"season":"SON","kind":"curve","model":"Z50","temp":4.1,"dens":0.048},{"season":"SON","kind":"curve","model":"Z50","temp":5,"dens":0.058},{"season":"SON","kind":"curve","model":"Z50","temp":6,"dens":0.068},{"season":"SON","kind":"curve","model":"Z50","temp":6.9,"dens":0.0772},{"season":"SON","kind":"curve","model":"Z50","temp":7.85,"dens":0.0838},{"season":"SON","kind":"curve","model":"Z50","temp":8.8,"dens":0.0863},{"season":"SON","kind":"curve","model":"Z50","temp":9.7,"dens":0.086},{"season":"SON","kind":"curve","model":"Z50","temp":10.65,"dens":0.0838},{"season":"SON","kind":"curve","model":"Z50","temp":11.6,"dens":0.0788},{"season":"SON","kind":"curve","model":"Z50","temp":12.5,"dens":0.0697},{"season":"SON","kind":"curve","model":"Z50","temp":13.5,"dens":0.058},{"season":"SON","kind":"curve","model":"Z50","temp":14.4,"dens":0.0447},{"season":"SON","kind":"curve","model":"Z50","temp":15.3,"dens":0.0313},{"season":"SON","kind":"curve","model":"Z50","temp":16.3,"dens":0.0197},{"season":"SON","kind":"curve","model":"Z50","temp":17.2,"dens":0.0105},{"season":"SON","kind":"curve","model":"Z50","temp":18.1,"dens":0.0047},{"season":"SON","kind":"curve","model":"Z50","temp":19.5,"dens":0.0013},{"season":"SON","kind":"curve","model":"Z50","temp":20.9,"dens":0.0005},{"season":"SON","kind":"curve","model":"Z50","temp":27.7,"dens":0}
],
"bot": [
{"season":"DJF","kind":"band","lo":0,"hi":6.0},{"season":"MAM","kind":"band","lo":4.67,"hi":10.42},{"season":"JJA","kind":"band","lo":13.05,"hi":17.0},{"season":"SON","kind":"band","lo":6.26,"hi":12.57},
{"season":"DJF","kind":"stat","model":"OBS","q1":0,"med":2.85,"q3":6.0,"lw":-8.8,"uw":13.5,"mean":2.85},
{"season":"DJF","kind":"stat","model":"SDD","q1":0.75,"med":3.65,"q3":6.4,"lw":-7.25,"uw":14.25,"mean":3.3},
{"season":"DJF","kind":"stat","model":"Z02","q1":-0.1,"med":2.3,"q3":5.05,"lw":-7.85,"uw":12.85,"mean":2.1},
{"season":"DJF","kind":"stat","model":"Z50","q1":0.75,"med":3.05,"q3":5.4,"lw":-6.2,"uw":11.5,"mean":2.65},
{"season":"MAM","kind":"stat","model":"OBS","q1":4.67,"med":7.6,"q3":10.42,"lw":-3.6,"uw":18.2,"mean":7.4},
{"season":"MAM","kind":"stat","model":"SDD","q1":4.44,"med":7.1,"q3":9.58,"lw":-2.15,"uw":16.8,"mean":6.9},
{"season":"MAM","kind":"stat","model":"Z02","q1":3.04,"med":5.9,"q3":8.5,"lw":-3.35,"uw":15.8,"mean":5.7},
{"season":"MAM","kind":"stat","model":"Z50","q1":3.7,"med":6.35,"q3":8.88,"lw":-2.55,"uw":16.45,"mean":6.25},
{"season":"JJA","kind":"stat","model":"OBS","q1":13.1,"med":14.85,"q3":16.95,"lw":7.75,"uw":22.5,"mean":14.85},
{"season":"JJA","kind":"stat","model":"SDD","q1":13.45,"med":15.3,"q3":17.4,"lw":7.8,"uw":23.2,"mean":15.55},
{"season":"JJA","kind":"stat","model":"Z02","q1":12.7,"med":14.8,"q3":17.1,"lw":6.3,"uw":23.55,"mean":14.85},
{"season":"JJA","kind":"stat","model":"Z50","q1":13.1,"med":15.0,"q3":17.25,"lw":7.0,"uw":23.1,"mean":15.4},
{"season":"SON","kind":"stat","model":"OBS","q1":6.3,"med":9.5,"q3":12.55,"lw":-2.5,"uw":21.6,"mean":9.2},
{"season":"SON","kind":"stat","model":"SDD","q1":6.2,"med":9.2,"q3":12.2,"lw":-2.5,"uw":21.0,"mean":8.8},
{"season":"SON","kind":"stat","model":"Z02","q1":4.6,"med":8.1,"q3":11.3,"lw":-4.9,"uw":20.2,"mean":7.8},
{"season":"SON","kind":"stat","model":"Z50","q1":5.85,"med":9.0,"q3":11.9,"lw":-3.3,"uw":20.8,"mean":8.65},
{"season":"DJF","kind":"out","model":"OBS","temp":-11.2},{"season":"DJF","kind":"out","model":"OBS","temp":-9.25},
{"season":"DJF","kind":"out","model":"SDD","temp":-13.7},{"season":"DJF","kind":"out","model":"SDD","temp":-12.1},{"season":"DJF","kind":"out","model":"SDD","temp":-11.1},{"season":"DJF","kind":"out","model":"SDD","temp":-10.6},{"season":"DJF","kind":"out","model":"SDD","temp":-10.2},{"season":"DJF","kind":"out","model":"SDD","temp":-9.9},{"season":"DJF","kind":"out","model":"SDD","temp":-9.6},{"season":"DJF","kind":"out","model":"SDD","temp":-9.3},{"season":"DJF","kind":"out","model":"SDD","temp":-9.0},{"season":"DJF","kind":"out","model":"SDD","temp":-8.7},{"season":"DJF","kind":"out","model":"SDD","temp":-8.4},{"season":"DJF","kind":"out","model":"SDD","temp":-8.1},{"season":"DJF","kind":"out","model":"SDD","temp":-7.8},
{"season":"DJF","kind":"out","model":"Z02","temp":-14.8},{"season":"DJF","kind":"out","model":"Z02","temp":-13.4},{"season":"DJF","kind":"out","model":"Z02","temp":-13.2},{"season":"DJF","kind":"out","model":"Z02","temp":-11.8},{"season":"DJF","kind":"out","model":"Z02","temp":-11.4},{"season":"DJF","kind":"out","model":"Z02","temp":-11.0},{"season":"DJF","kind":"out","model":"Z02","temp":-10.7},{"season":"DJF","kind":"out","model":"Z02","temp":-10.4},{"season":"DJF","kind":"out","model":"Z02","temp":-10.1},{"season":"DJF","kind":"out","model":"Z02","temp":-9.8},{"season":"DJF","kind":"out","model":"Z02","temp":-9.5},{"season":"DJF","kind":"out","model":"Z02","temp":-9.2},{"season":"DJF","kind":"out","model":"Z02","temp":-8.9},{"season":"DJF","kind":"out","model":"Z02","temp":-8.6},{"season":"DJF","kind":"out","model":"Z02","temp":-8.3},{"season":"DJF","kind":"out","model":"Z02","temp":-8.0},{"season":"DJF","kind":"out","model":"Z02","temp":13.8},
{"season":"DJF","kind":"out","model":"Z50","temp":-13.6},{"season":"DJF","kind":"out","model":"Z50","temp":-12.3},{"season":"DJF","kind":"out","model":"Z50","temp":-11.2},{"season":"DJF","kind":"out","model":"Z50","temp":-10.9},{"season":"DJF","kind":"out","model":"Z50","temp":-9.7},{"season":"DJF","kind":"out","model":"Z50","temp":-9.4},{"season":"DJF","kind":"out","model":"Z50","temp":-9.1},{"season":"DJF","kind":"out","model":"Z50","temp":-8.8},{"season":"DJF","kind":"out","model":"Z50","temp":-8.5},{"season":"DJF","kind":"out","model":"Z50","temp":-8.2},{"season":"DJF","kind":"out","model":"Z50","temp":-7.9},{"season":"DJF","kind":"out","model":"Z50","temp":-7.6},{"season":"DJF","kind":"out","model":"Z50","temp":-7.3},{"season":"DJF","kind":"out","model":"Z50","temp":-7.0},{"season":"DJF","kind":"out","model":"Z50","temp":-6.7},{"season":"DJF","kind":"out","model":"Z50","temp":-6.4},{"season":"DJF","kind":"out","model":"Z50","temp":12.8},{"season":"DJF","kind":"out","model":"Z50","temp":13.8},
{"season":"MAM","kind":"out","model":"OBS","temp":-8.6},{"season":"MAM","kind":"out","model":"OBS","temp":-7.25},{"season":"MAM","kind":"out","model":"OBS","temp":19.6},{"season":"MAM","kind":"out","model":"OBS","temp":19.95},
{"season":"MAM","kind":"out","model":"SDD","temp":17.05},{"season":"MAM","kind":"out","model":"SDD","temp":17.3},{"season":"MAM","kind":"out","model":"SDD","temp":17.55},{"season":"MAM","kind":"out","model":"SDD","temp":17.8},{"season":"MAM","kind":"out","model":"SDD","temp":18.0},{"season":"MAM","kind":"out","model":"SDD","temp":18.2},
{"season":"MAM","kind":"out","model":"Z02","temp":-5.65},{"season":"MAM","kind":"out","model":"Z02","temp":-5.3},{"season":"MAM","kind":"out","model":"Z02","temp":16.8},
{"season":"MAM","kind":"out","model":"Z50","temp":16.8},{"season":"MAM","kind":"out","model":"Z50","temp":17.1},
{"season":"JJA","kind":"out","model":"OBS","temp":5.3},{"season":"JJA","kind":"out","model":"OBS","temp":6.45},{"season":"JJA","kind":"out","model":"OBS","temp":7.2},{"season":"JJA","kind":"out","model":"OBS","temp":23.1},{"season":"JJA","kind":"out","model":"OBS","temp":23.4},{"season":"JJA","kind":"out","model":"OBS","temp":24.7},
{"season":"JJA","kind":"out","model":"SDD","temp":7.3},{"season":"JJA","kind":"out","model":"SDD","temp":23.4},{"season":"JJA","kind":"out","model":"SDD","temp":23.7},{"season":"JJA","kind":"out","model":"SDD","temp":24.0},{"season":"JJA","kind":"out","model":"SDD","temp":24.3},{"season":"JJA","kind":"out","model":"SDD","temp":24.6},{"season":"JJA","kind":"out","model":"SDD","temp":25.0},{"season":"JJA","kind":"out","model":"SDD","temp":25.5},{"season":"JJA","kind":"out","model":"SDD","temp":26.6},
{"season":"JJA","kind":"out","model":"Z02","temp":5.95},{"season":"JJA","kind":"out","model":"Z02","temp":23.7},{"season":"JJA","kind":"out","model":"Z02","temp":24.0},{"season":"JJA","kind":"out","model":"Z02","temp":24.3},{"season":"JJA","kind":"out","model":"Z02","temp":24.6},{"season":"JJA","kind":"out","model":"Z02","temp":25.0},{"season":"JJA","kind":"out","model":"Z02","temp":25.3},
{"season":"JJA","kind":"out","model":"Z50","temp":6.65},{"season":"JJA","kind":"out","model":"Z50","temp":23.2},{"season":"JJA","kind":"out","model":"Z50","temp":23.5},{"season":"JJA","kind":"out","model":"Z50","temp":23.8},{"season":"JJA","kind":"out","model":"Z50","temp":24.1},{"season":"JJA","kind":"out","model":"Z50","temp":24.5},{"season":"JJA","kind":"out","model":"Z50","temp":25.0},{"season":"JJA","kind":"out","model":"Z50","temp":25.4},{"season":"JJA","kind":"out","model":"Z50","temp":25.9},
{"season":"SON","kind":"out","model":"OBS","temp":-4.7},{"season":"SON","kind":"out","model":"OBS","temp":-3.9},{"season":"SON","kind":"out","model":"OBS","temp":-3.2},
{"season":"SON","kind":"out","model":"SDD","temp":-4.8},{"season":"SON","kind":"out","model":"SDD","temp":-4.1},{"season":"SON","kind":"out","model":"SDD","temp":21.7},{"season":"SON","kind":"out","model":"SDD","temp":22.5},{"season":"SON","kind":"out","model":"SDD","temp":24.5},
{"season":"SON","kind":"out","model":"Z02","temp":-6.45},{"season":"SON","kind":"out","model":"Z02","temp":-6.1},{"season":"SON","kind":"out","model":"Z02","temp":21.35},{"season":"SON","kind":"out","model":"Z02","temp":22.3},{"season":"SON","kind":"out","model":"Z02","temp":24.15},
{"season":"SON","kind":"out","model":"Z50","temp":-6.1},{"season":"SON","kind":"out","model":"Z50","temp":-5.2},{"season":"SON","kind":"out","model":"Z50","temp":-3.6},{"season":"SON","kind":"out","model":"Z50","temp":22.05},{"season":"SON","kind":"out","model":"Z50","temp":22.4},{"season":"SON","kind":"out","model":"Z50","temp":24.3}
]
},
"resolve": {"scale": {"color": "independent", "stroke": "independent", "strokeWidth": "independent", "strokeDash": "independent", "fill": "independent"}},
"spacing": 0,
"vconcat": [
{
  "data": {"name": "top"},
  "facet": {"column": {"field": "season", "type": "nominal", "sort": ["DJF","MAM","JJA","SON"], "header": {"labels": false, "title": null}}},
  "spacing": 0,
  "spec": {
    "width": 320.7, "height": 320,
    "resolve": {"axis": {"x": "independent", "y": "independent"}},
    "layer": [
      {"transform": [{"filter": "datum.kind == 'hist'"}],
       "mark": {"type": "rect", "fill": "#BEBEBE", "stroke": "#8A8A8A", "strokeWidth": 0.8},
       "encoding": {
         "x": {"field": "lo", "type": "quantitative", "scale": {"domain": [-15, 30], "nice": false, "zero": false},
               "axis": {"orient": "top", "title": null, "labels": false, "tickSize": -3,
                        "values": [-15,-14,-13,-12,-11,-10,-9,-8,-7,-6,-5,-4,-3,-2,-1,0,1,2,3,4,5,6,7,8,9,10,11,12,13,14,15,16,17,18,19,20,21,22,23,24,25,26,27,28,29,30]}},
         "x2": {"field": "hi"},
         "y": {"field": "dens", "type": "quantitative", "scale": {"domain": [0, 0.16], "nice": false},
               "axis": {"orient": "left", "title": null, "labels": false, "tickSize": -3,
                        "values": [0.01,0.03,0.05,0.07,0.09,0.11,0.13,0.15]}},
         "y2": {"datum": 0}
       }},
      {"transform": [{"filter": "datum.kind == 'lab'"}],
       "mark": {"type": "rule", "strokeDash": [4, 3], "strokeWidth": 1},
       "encoding": {"x": {"datum": 0, "type": "quantitative", "axis": null},
                    "stroke": {"field": "season", "type": "nominal", "scale": {"domain": ["DJF","MAM","JJA","SON"], "range": ["#000000","#808080","#808080","#000000"]}, "legend": null}}},
      {"transform": [{"filter": "datum.kind == 'curve'"}],
       "mark": {"type": "line", "interpolate": "monotone"},
       "encoding": {
         "x": {"field": "temp", "type": "quantitative",
               "axis": {"orient": "top", "title": null, "values": [-10,-5,0,5,10,15,20,25], "labelExpr": "datum.value + ''",
                        "tickSize": -5, "labelPadding": 10, "labelFontSize": 18, "labelOverlap": false, "labelFlush": false, "labelAngle": 0}},
         "y": {"field": "dens", "type": "quantitative",
               "axis": {"orient": "left", "title": "Densité de probabilité", "titleFontSize": 18, "titlePadding": 5, "minExtent": 37, "maxExtent": 37,
                        "values": [0,0.02,0.04,0.06,0.08,0.1,0.12,0.14,0.16], "labelExpr": "datum.value + ''",
                        "tickSize": -5, "labelPadding": 4, "labelFontSize": 18.5, "labelOverlap": false, "labelFlush": false}},
         "color": {"field": "model", "type": "nominal", "scale": {"domain": ["OBS","SDD","Z02","Z50"], "range": ["#000000","#1E90FF","#FF0000","#FFA500"]}, "legend": null},
         "strokeDash": {"field": "model", "type": "nominal", "scale": {"domain": ["OBS","SDD","Z02","Z50"], "range": [[10,6],[1,0],[1,0],[1,0]]}, "legend": null},
         "strokeWidth": {"field": "model", "type": "nominal", "scale": {"domain": ["OBS","SDD","Z02","Z50"], "range": [3,2.6,2.6,2.6]}, "legend": null}
       }},
      {"transform": [{"filter": "datum.kind == 'lab'"}],
       "mark": {"type": "text", "fontSize": 22, "font": "Liberation Sans", "align": "center", "baseline": "middle", "color": "#000"},
       "encoding": {
         "x": {"datum": 7.5, "type": "quantitative", "axis": null},
         "y": {"datum": 0.146, "type": "quantitative",
               "axis": {"orient": "right", "title": null, "labels": false, "tickSize": -4,
                        "values": [0,0.01,0.02,0.03,0.04,0.05,0.06,0.07,0.08,0.09,0.1,0.11,0.12,0.13,0.14,0.15,0.16]}},
         "text": {"field": "season"}
       }}
    ]
  }
},
{
  "data": {"name": "bot"},
  "facet": {"column": {"field": "season", "type": "nominal", "sort": ["DJF","MAM","JJA","SON"], "header": {"labels": false, "title": null}}},
  "spacing": 0,
  "spec": {
    "width": 320.7, "height": 317,
    "resolve": {"axis": {"x": "independent"}},
    "layer": [
      {"transform": [{"filter": "datum.kind == 'band'"}],
       "mark": {"type": "rect", "fill": "#E5E5E5", "stroke": "#C8C8C8", "strokeWidth": 1},
       "encoding": {
         "x": {"field": "lo", "type": "quantitative", "scale": {"domain": [-15, 30], "nice": false, "zero": false},
               "axis": {"orient": "bottom", "title": null, "labels": false, "tickSize": -3,
                        "values": [-15,-14,-13,-12,-11,-10,-9,-8,-7,-6,-5,-4,-3,-2,-1,0,1,2,3,4,5,6,7,8,9,10,11,12,13,14,15,16,17,18,19,20,21,22,23,24,25,26,27,28,29,30]}},
         "x2": {"field": "hi"}
       }},
      {"transform": [{"filter": "datum.kind == 'band'"}],
       "mark": {"type": "rule", "strokeDash": [4, 3], "strokeWidth": 1},
       "encoding": {"x": {"datum": 0, "type": "quantitative", "axis": null},
                    "stroke": {"field": "season", "type": "nominal", "scale": {"domain": ["DJF","MAM","JJA","SON"], "range": ["#000000","#808080","#808080","#000000"]}, "legend": null}}},
      {"transform": [{"filter": "datum.kind == 'stat'"}],
       "mark": {"type": "rule", "strokeDash": [5, 3], "color": "#555555"},
       "encoding": {
         "x": {"field": "lw", "type": "quantitative",
               "axis": {"orient": "bottom", "title": null, "values": [-10,-5,0,5,10,15,20,25], "labelExpr": "datum.value + ''",
                        "tickSize": -5, "labelPadding": 16, "labelFontSize": 18, "labelOverlap": false, "labelFlush": false, "labelAngle": 0}},
         "x2": {"field": "uw"},
         "y": {"field": "model", "type": "nominal", "sort": ["OBS","SDD","Z02","Z50"], "scale": {"paddingInner": 0, "paddingOuter": 0.22},
               "axis": {"title": "\u00a0", "titleFontSize": 18, "titlePadding": 5, "minExtent": 37, "maxExtent": 37, "ticks": false, "labelPadding": 4, "labelFontSize": 19}},
         "strokeWidth": {"field": "model", "type": "nominal", "scale": {"domain": ["OBS","SDD","Z02","Z50"], "range": [1,1,1.6,1.6]}, "legend": null}
       }},
      {"transform": [{"filter": "datum.kind == 'stat'"}],
       "mark": {"type": "tick", "size": 29, "thickness": 1.3, "color": "#444444"},
       "encoding": {"x": {"field": "lw", "type": "quantitative", "axis": null}, "y": {"field": "model", "type": "nominal", "sort": ["OBS","SDD","Z02","Z50"]}}},
      {"transform": [{"filter": "datum.kind == 'stat'"}],
       "mark": {"type": "tick", "size": 29, "thickness": 1.3, "color": "#444444"},
       "encoding": {"x": {"field": "uw", "type": "quantitative", "axis": null}, "y": {"field": "model", "type": "nominal", "sort": ["OBS","SDD","Z02","Z50"]}}},
      {"transform": [{"filter": "datum.kind == 'stat'"}],
       "mark": {"type": "bar", "height": {"band": 0.8}, "stroke": "#444444", "strokeWidth": 1},
       "encoding": {
         "x": {"field": "q1", "type": "quantitative", "axis": null}, "x2": {"field": "q3"},
         "y": {"field": "model", "type": "nominal", "sort": ["OBS","SDD","Z02","Z50"]},
         "fill": {"field": "model", "type": "nominal", "scale": {"domain": ["OBS","SDD","Z02","Z50"], "range": ["#BEBEBE","#1E90FF","#FF0000","#FFA500"]}, "legend": null}
       }},
      {"transform": [{"filter": "datum.kind == 'stat'"}],
       "mark": {"type": "tick", "size": 57, "thickness": 3, "color": "#000000"},
       "encoding": {"x": {"field": "med", "type": "quantitative", "axis": null}, "y": {"field": "model", "type": "nominal", "sort": ["OBS","SDD","Z02","Z50"]}}},
      {"transform": [{"filter": "datum.kind == 'stat'"}],
       "mark": {"type": "point", "shape": "circle", "filled": false, "size": 30, "strokeWidth": 1.1, "color": "#000000"},
       "encoding": {"x": {"field": "mean", "type": "quantitative", "axis": null}, "y": {"field": "model", "type": "nominal", "sort": ["OBS","SDD","Z02","Z50"]}}},
      {"transform": [{"filter": "datum.kind == 'out'"}],
       "mark": {"type": "point", "shape": "circle", "filled": false, "size": 9, "strokeWidth": 0.8, "color": "#333333"},
       "encoding": {"x": {"field": "temp", "type": "quantitative", "axis": null}, "y": {"field": "model", "type": "nominal", "sort": ["OBS","SDD","Z02","Z50"]}}}
    ]
  }
}
]
}
